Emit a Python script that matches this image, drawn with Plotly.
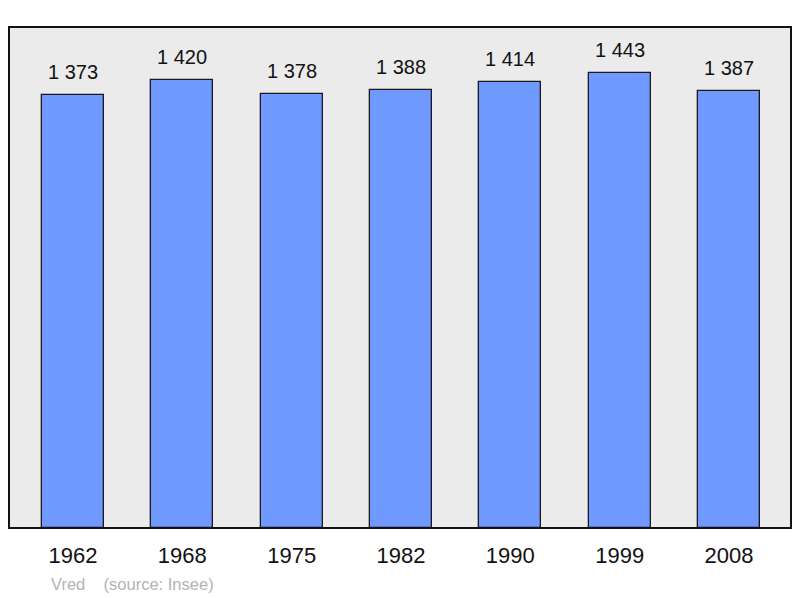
import plotly.graph_objects as go

years = ["1962", "1968", "1975", "1982", "1990", "1999", "2008"]
population = [1373, 1420, 1378, 1388, 1414, 1443, 1387]
labels = ["1 373", "1 420", "1 378", "1 388", "1 414", "1 443", "1 387"]

idx = list(range(len(years)))
FONT = "Liberation Sans, Arial, sans-serif"

fig = go.Figure()
fig.add_trace(go.Bar(
    x=idx, y=population, width=0.567,
    marker=dict(color="#7099ff", line=dict(color="#1a1a1a", width=1.3)),
    hoverinfo="skip",
))

for i, (v, t) in enumerate(zip(population, labels)):
    fig.add_annotation(x=i, y=v, text=t, showarrow=False, yanchor="bottom",
                       yshift=10, font=dict(size=20, color="#111111", family=FONT))

fig.add_annotation(xref="paper", yref="paper", x=0.0512, y=-0.1118,
                   text="Vred&nbsp;&nbsp;&nbsp;&nbsp;(source: Insee)",
                   showarrow=False, xanchor="left", yanchor="middle",
                   font=dict(size=16.5, color="#b3b3b3", family=FONT))

fig.add_shape(type="rect", xref="paper", yref="paper", x0=0, x1=1, y0=0, y1=1,
              line=dict(color="#111111", width=2), layer="above")

fig.update_layout(
    width=792, height=590,
    margin=dict(l=1, r=9, t=19, b=70),
    paper_bgcolor="white", plot_bgcolor="#ebebeb",
    showlegend=False,
    bargap=0,
    font=dict(family=FONT),
    xaxis=dict(range=[-0.585, 6.567], tickvals=idx, ticktext=years,
               showgrid=False, zeroline=False, ticks="outside", ticklen=8,
               tickcolor="rgba(0,0,0,0)",
               tickfont=dict(size=22, color="#111111")),
    yaxis=dict(range=[0, 1589], showgrid=False, zeroline=False,
               showticklabels=False, ticks=""),
)

fig.write_html("out.html")
